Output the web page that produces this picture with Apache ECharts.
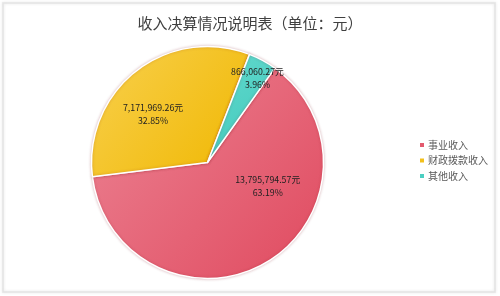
<!DOCTYPE html>
<html>
<head>
<meta charset="utf-8">
<script src="https://cdn.jsdelivr.net/npm/echarts@6/dist/echarts.min.js"></script>
<style>
html,body{margin:0;padding:0;background:#fff;}
#main{width:500px;height:296px;}
</style>
</head>
<body>
<div id="main"></div>
<script>
const titleText = '收入决算情况说明表（单位：元）';
const categories = ['事业收入', '财政拨款收入', '其他收入'];
const values = [13795794.57, 7171969.26, 866060.27];
const percents = ['63.19%', '32.85%', '3.96%'];

const colorStops = [
  ['#ec8494', '#e04a5f'],
  ['#f8d04e', '#f0b700'],
  ['#62d9cd', '#40c8bb']
];
const legendColors = ['#e35a6e', '#f2c01c', '#4ccfc2'];
const labelOffsets = [[29, -29], [-17, 0], [21, -31]];

function fmt(v) {
  return v.toLocaleString('en-US', {minimumFractionDigits: 2, maximumFractionDigits: 2});
}

const chart = echarts.init(document.getElementById('main'), null, {renderer: 'canvas'});
const data = categories.map((c, i) => ({
  name: c,
  value: values[i],
  itemStyle: {
    color: {
      type: 'linear', x: 0, y: 0, x2: 1, y2: 1,
      colorStops: [{offset: 0, color: colorStops[i][0]}, {offset: 1, color: colorStops[i][1]}]
    }
  },
  label: {offset: labelOffsets[i]}
}));

chart.setOption({
  animation: false,
  backgroundColor: '#fff',
  graphic: [{
    type: 'rect',
    shape: {x: 3, y: 3, width: 492, height: 289},
    style: {fill: 'none', stroke: '#e3e3e3', lineWidth: 1.5, shadowBlur: 3, shadowColor: 'rgba(0,0,0,0.12)'},
    silent: true, z: 100
  }],
  title: {
    text: titleText,
    left: 'center',
    top: 11,
    textStyle: {fontSize: 15, fontWeight: 'normal', color: '#404040', fontFamily: 'Noto Sans CJK SC'}
  },
  legend: {
    orient: 'vertical',
    left: 413,
    top: 135,
    itemWidth: 6,
    itemHeight: 6,
    itemGap: 5.5,
    icon: 'rect',
    data: categories.map((c, i) => ({name: c, itemStyle: {color: legendColors[i]}})),
    textStyle: {fontSize: 10, color: '#595959', fontFamily: 'Noto Sans CJK SC', padding: [0, 0, 0, -2]}
  },
  series: [{
    type: 'pie',
    center: [207.5, 162.5],
    radius: [0, 116],
    startAngle: 54.5,
    clockwise: true,
    data: data,
    itemStyle: {borderColor: '#fff', borderWidth: 1.5, shadowBlur: 3, shadowColor: 'rgba(120,0,20,0.25)'},
    label: {
      position: 'inside',
      formatter: p => fmt(values[p.dataIndex]) + '元\n' + percents[p.dataIndex],
      fontSize: 8.8,
      lineHeight: 13,
      color: '#222',
      fontFamily: 'Noto Sans CJK SC',
      align: 'center'
    },
    labelLine: {show: false},
    emphasis: {disabled: true}
  }]
});
</script>
</body>
</html>
